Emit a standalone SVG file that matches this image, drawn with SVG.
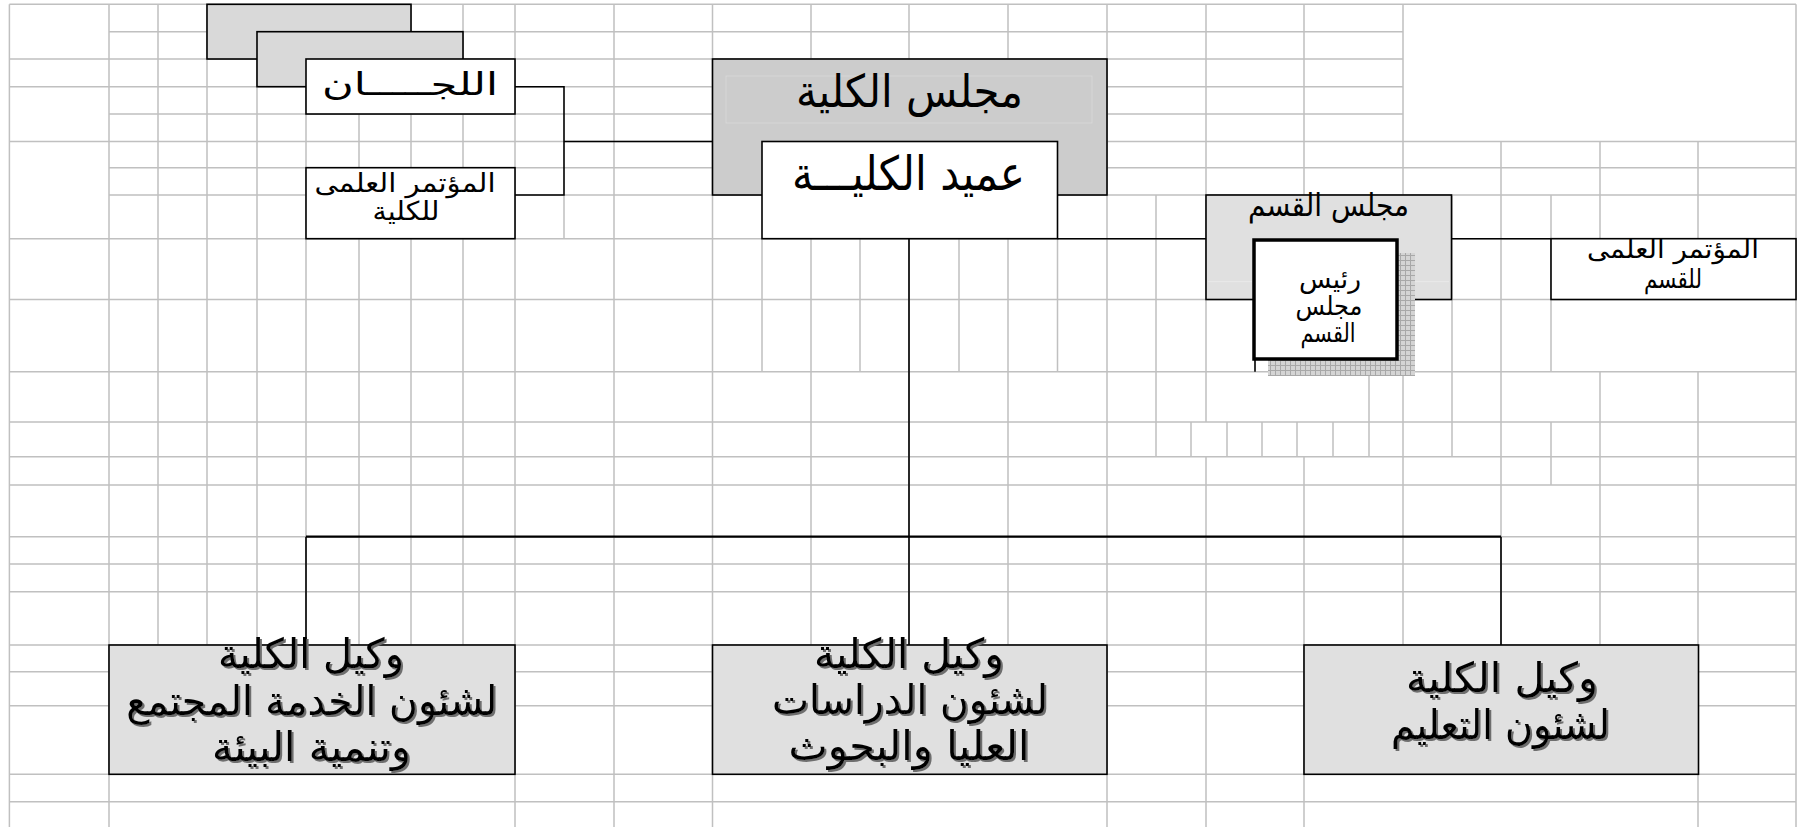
<svg xmlns="http://www.w3.org/2000/svg" width="1806" height="827" viewBox="0 0 1806 827">
<style>
.grid{stroke:#c0c0c0;stroke-width:1.5;fill:none}
.con{stroke:#000;stroke-width:1.6;fill:none}
.bus{stroke:#000;stroke-width:2.2;fill:none}
.box{stroke:#000;stroke-width:1.6}
.w{fill:#fff}
.g1{fill:#d9d9d9}
.g2{fill:#cccccc}
.g3{fill:#e0e0e0}
text{font-family:'DejaVu Sans','Liberation Sans',sans-serif;fill:#000;text-anchor:middle}
.shd{filter:url(#tshadow)}
</style>
<defs>
<pattern id="hatch" width="5" height="5" patternUnits="userSpaceOnUse">
<rect width="5" height="5" fill="#d4d4d4"/>
<path d="M0 0.5H5M0.5 0V5" stroke="#a8a8a8" stroke-width="1"/>
</pattern>
<filter id="tshadow" x="-5%" y="-5%" width="110%" height="110%">
<feDropShadow dx="2" dy="2" stdDeviation="0.3" flood-color="#6e6e6e" flood-opacity="1"/>
</filter>
</defs>
<rect width="1806" height="827" fill="#fff"/>
<g id="grid" class="grid">
<path d="M9.4 4.3H1796M109 31.7H1403M9.4 59H1403M9.4 86.7H1403M109 114H1403M9.4 141.5H1796M109 167.7H1796M109 195H1796M9.4 238.7H1796M9.4 299.5H1796M9.4 371.7H1796M9.4 422H1796M9.4 456.7H1796M9.4 485H1796M9.4 536.7H1796M9.4 564H1796M9.4 591.7H1796M9.4 645H1796M9.4 671.7H1796M9.4 705.7H1796M9.4 774.3H1796M9.4 801.7H1796"/>
<path d="M9.4 4.3V827M109 4.3V827M158 4.3V645M207 4.3V645M257 4.3V645M306 4.3V645M359 4.3V645M411 4.3V645M463 4.3V645M515 4.3V827M564 195V238.7M614 4.3V827M712.5 4.3V827M762 238.7V371.7M860 238.7V371.7M959 238.7V371.7M1057.5 238.7V371.7M811 4.3V645M909 4.3V645M1008 4.3V645M1107 4.3V827M1156 195V456.7M1191 422V456.7M1227 422V456.7M1262 422V456.7M1297 422V456.7M1333 422V456.7M1369 371.7V456.7M1206 4.3V422M1206 456.7V827M1304 4.3V195M1304 456.7V827M1403 4.3V645M1452 195V456.7M1501 141.5V645M1551 195V371.7M1551 422V485M1600 141.5V238.7M1600 371.7V645M1698 141.5V238.7M1698 371.7V827M1796 4.3V827"/>
</g>
<g id="connectors">
<path class="con" d="M515 86.7H564V195H515M564 141.5H712.5M1057.5 238.7H1206M1451.5 238.7H1551M909 238.7V645M306 536.7V645M1501 536.7V645M1255 359V371.7"/>
<path class="bus" d="M306 536.7H1501"/>
</g>
<g id="committees-stack">
<rect class="box g1" x="207" y="4.3" width="204" height="54.7"/>
<rect class="box g1" x="257" y="31.7" width="206" height="55"/>
</g>
<g id="node-committees">
<rect class="box w" x="306" y="59" width="209" height="55"/>
<text x="410" y="95" font-size="31" textLength="176" lengthAdjust="spacingAndGlyphs">اللجـــــان</text>
</g>
<g id="node-college-conference">
<rect class="box w" x="306" y="167.7" width="209" height="71"/>
<text font-size="26"><tspan x="405" y="192" textLength="181" lengthAdjust="spacingAndGlyphs">المؤتمر العلمى</tspan><tspan x="406" y="220" textLength="67" lengthAdjust="spacingAndGlyphs">للكلية</tspan></text>
</g>
<g id="node-college-council">
<rect class="box g2" x="712.5" y="59" width="394.5" height="136"/>
<rect x="726" y="76" width="366" height="47" fill="none" stroke="#dadada" stroke-width="0.8"/>
<text x="909.5" y="107" font-size="45" textLength="227" lengthAdjust="spacingAndGlyphs">مجلس الكلية</text>
</g>
<g id="node-dean">
<rect class="box w" x="762" y="141.5" width="295.5" height="97.2"/>
<text x="908.5" y="190" font-size="47" textLength="233" lengthAdjust="spacingAndGlyphs">عميد الكليـــة</text>
</g>
<g id="node-dept-council">
<rect class="box g3" x="1206" y="195" width="245.5" height="104.5"/>
<path d="M1208 281.7H1252M1399 281.7H1449" stroke="#ececec" stroke-width="0.8"/>
<text x="1328.5" y="216" font-size="31" textLength="161" lengthAdjust="spacingAndGlyphs">مجلس القسم</text>
</g>
<g id="node-dept-head">
<rect x="1268" y="253" width="147" height="123" fill="url(#hatch)"/>
<rect class="w" x="1254" y="240" width="143" height="119" stroke="#000" stroke-width="3.5"/>
<text font-size="26"><tspan x="1330" y="288" textLength="62" lengthAdjust="spacingAndGlyphs">رئيس</tspan><tspan x="1329" y="315" textLength="67" lengthAdjust="spacingAndGlyphs">مجلس</tspan><tspan x="1328" y="342" textLength="55" lengthAdjust="spacingAndGlyphs">القسم</tspan></text>
</g>
<g id="node-dept-conference">
<rect class="box w" x="1551" y="238.7" width="245" height="60.8"/>
<text font-size="26"><tspan x="1673" y="258" textLength="172" lengthAdjust="spacingAndGlyphs">المؤتمر العلمى</tspan><tspan x="1673" y="288" textLength="58" lengthAdjust="spacingAndGlyphs">للقسم</tspan></text>
</g>
<g id="node-vice-community">
<rect class="box g3" x="109" y="645" width="406" height="129.3"/>
<text class="shd" font-size="41"><tspan x="311" y="668" textLength="186" lengthAdjust="spacingAndGlyphs">وكيل الكلية</tspan><tspan x="311.7" y="715" textLength="371" lengthAdjust="spacingAndGlyphs">لشئون الخدمة المجتمع</tspan><tspan x="311.5" y="761" textLength="199" lengthAdjust="spacingAndGlyphs">وتنمية البيئة</tspan></text>
</g>
<g id="node-vice-graduate">
<rect class="box g3" x="712.5" y="645" width="394.5" height="129.3"/>
<text class="shd" font-size="41"><tspan x="909" y="668" textLength="190" lengthAdjust="spacingAndGlyphs">وكيل الكلية</tspan><tspan x="910" y="714" textLength="276" lengthAdjust="spacingAndGlyphs">لشئون الدراسات</tspan><tspan x="909" y="760" textLength="241" lengthAdjust="spacingAndGlyphs">العليا والبحوث</tspan></text>
</g>
<g id="node-vice-education">
<rect class="box g3" x="1304" y="645" width="394.5" height="129.3"/>
<text class="shd" font-size="41"><tspan x="1502" y="692" textLength="192" lengthAdjust="spacingAndGlyphs">وكيل الكلية</tspan><tspan x="1500.5" y="739" textLength="219" lengthAdjust="spacingAndGlyphs">لشئون التعليم</tspan></text>
</g>
</svg>
